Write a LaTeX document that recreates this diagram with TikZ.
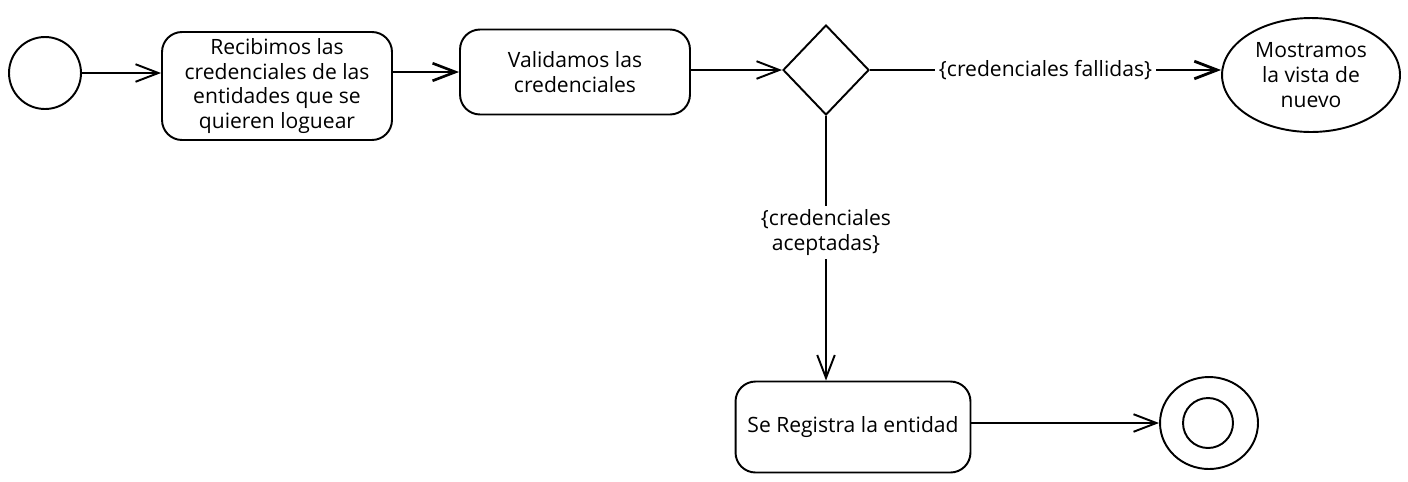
\documentclass[tikz,border=0pt]{standalone}
\usepackage{fontspec}
\setmainfont{Open Sans}
\usetikzlibrary{shapes.geometric,arrows.meta}

\begin{document}
\begin{tikzpicture}[x=0.02cm, y=-0.02cm,
    every node/.style={font=\fontsize{12}{14.2}\selectfont, align=center},
    act/.style={draw, line width=1.1pt, rounded corners=0.4cm, inner sep=2pt},
    flow/.style={-{Straight Barb[length=13pt, width=10pt]}, line width=1.1pt},
    guard/.style={fill=white, inner sep=2pt}]
    \useasboundingbox (0,0) rectangle (1408,481);

    % initial and final states
    \node[draw, circle, line width=1.1pt, minimum size=1.44cm] (start) at (45,73) {};
    \node[draw, ellipse, line width=1.1pt, minimum width=1.96cm, minimum height=1.84cm] (fin) at (1209,423) {};
    \node[draw, circle, line width=1.1pt, minimum size=1cm] (finin) at (1208,423) {};

    % activities
    \node[act, minimum width=4.6cm, minimum height=2.16cm] (recv) at (277,86)
        {Recibimos las\\credenciales de las\\entidades que se\\quieren loguear};
    \node[act, minimum width=4.6cm, minimum height=1.7cm] (valid) at (575,72)
        {Validamos las\\credenciales};
    \node[draw, diamond, line width=1.1pt, inner sep=0pt, minimum width=1.72cm, minimum height=1.8cm] (dec) at (826,70) {};
    \node[draw, ellipse, line width=1.1pt, inner sep=0pt, minimum width=3.56cm, minimum height=2.28cm] (show) at (1311,75)
        {Mostramos\\la vista de\\nuevo};
    \node[act, minimum width=4.7cm, minimum height=1.82cm] (reg) at (853,427)
        {Se Registra la entidad};

    % transitions
    \draw[flow] (start) -- (start -| recv.west);
    \draw[flow, line width=1.5pt] (recv.east |- valid.west) -- (valid.west);
    \draw[flow] (valid.east |- dec) -- (dec);
    \draw[flow, line width=1.6pt] (dec.east) -- node[guard] {\{credenciales fallidas\}} (dec.east -| show.west);
    \draw[flow] (dec.south) -- node[guard, pos=0.44] {\{credenciales\\aceptadas\}} (dec.south |- reg.north);
    \draw[flow] (reg.east |- fin) -- (fin);
\end{tikzpicture}
\end{document}
